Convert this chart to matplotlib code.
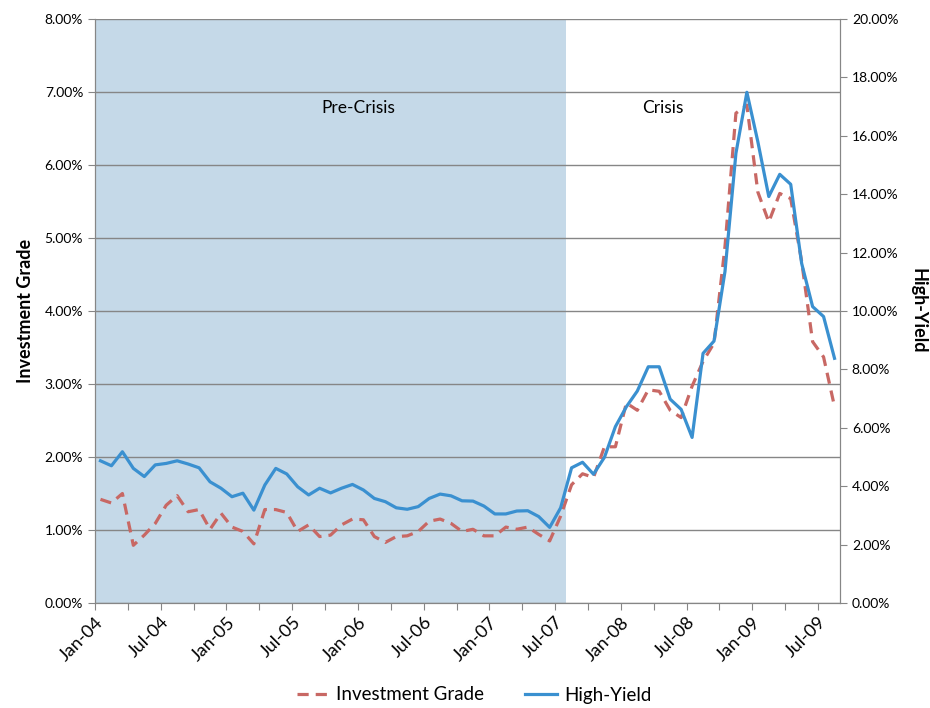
import numpy as np
import matplotlib.pyplot as plt
from matplotlib.ticker import FuncFormatter, MultipleLocator

plt.rcParams['font.family'] = ['Lato', 'DejaVu Sans']

# monthly, Jan-04 .. Aug-09 (68 months), percent
inv_grade = [1.42, 1.37, 1.50, 0.79, 0.93, 1.09, 1.34, 1.47, 1.25, 1.28,
             1.01, 1.23, 1.04, 0.98, 0.81, 1.28, 1.28, 1.24, 0.98, 1.07,
             0.91, 0.93, 1.07, 1.15, 1.14, 0.91, 0.83, 0.91, 0.92, 0.98,
             1.12, 1.15, 1.09, 0.98, 1.01, 0.92, 0.92, 1.04, 1.01, 1.04,
             0.94, 0.85, 1.19, 1.62, 1.77, 1.72, 2.14, 2.14, 2.74, 2.64,
             2.92, 2.90, 2.64, 2.54, 2.97, 3.31, 3.56, 4.88, 6.71, 6.82,
             5.63, 5.22, 5.61, 5.54, 4.68, 3.58, 3.37, 2.69]
high_yield = [4.87, 4.70, 5.18, 4.61, 4.33, 4.73, 4.78, 4.87, 4.76, 4.63,
              4.15, 3.93, 3.64, 3.76, 3.18, 4.04, 4.61, 4.42, 3.98, 3.70,
              3.93, 3.77, 3.93, 4.06, 3.87, 3.58, 3.47, 3.26, 3.21, 3.30,
              3.58, 3.73, 3.67, 3.50, 3.49, 3.32, 3.05, 3.05, 3.15, 3.16,
              2.96, 2.59, 3.26, 4.63, 4.82, 4.41, 4.99, 6.04, 6.72, 7.26,
              8.09, 8.09, 6.98, 6.63, 5.67, 8.55, 8.97, 11.35, 15.40, 17.49,
              15.80, 13.92, 14.68, 14.34, 11.63, 10.15, 9.81, 8.38]
tick_labels = ['Jan-04', 'Jul-04', 'Jan-05', 'Jul-05', 'Jan-06', 'Jul-06',
               'Jan-07', 'Jul-07', 'Jan-08', 'Jul-08', 'Jan-09', 'Jul-09']
pre_crisis_months = 43

x = np.arange(len(inv_grade))
pct = FuncFormatter(lambda v, p: f"{v:.2f}%")
grey = '#868686'

fig = plt.figure(figsize=(9.3, 7.08), dpi=100)
ax = fig.add_axes([95/930, 105/708, 745/930, 584/708])
ax2 = ax.twinx()

ax.axvspan(-0.5, pre_crisis_months - 0.5, color='#c5d9e8', zorder=0, lw=0)
ax.plot(x, inv_grade, color='#c86864', lw=2.3, ls=(0, (3.5, 2.2)),
        label='Investment Grade', zorder=3)
ax2.plot(x, high_yield, color='#3a90d0', lw=2.3, label='High-Yield', zorder=3)

ax.set_xlim(-0.5, len(x) - 0.5)
ax.set_ylim(0, 8)
ax2.set_ylim(0, 20)
ax.yaxis.set_major_locator(MultipleLocator(1))
ax2.yaxis.set_major_locator(MultipleLocator(2))
ax.yaxis.set_major_formatter(pct)
ax2.yaxis.set_major_formatter(pct)
ax.grid(axis='y', color=grey, lw=1, zorder=1)
ax.set_axisbelow(False)

ticks = np.arange(-0.5, len(x) - 1, 3)
ax.set_xticks(ticks)
ax.set_xticklabels([tick_labels[i // 2] if i % 2 == 0 else '' for i in range(len(ticks))],
                   rotation=45, ha='right', rotation_mode='anchor')

for a in (ax, ax2):
    for s in a.spines.values():
        s.set_color(grey)
    a.spines['top'].set_visible(False)
    a.tick_params(colors=grey, labelcolor='black', length=5, labelsize=10)
ax.tick_params(axis='x', labelsize=13, pad=3)

ax.set_ylabel('Investment Grade', fontsize=13, fontweight='bold', labelpad=8)
ax2.set_ylabel('High-Yield', fontsize=13, fontweight='bold', rotation=-90, labelpad=20)

ax.text(23.5, 6.78, 'Pre-Crisis', fontsize=12.5, ha='center', va='center')
ax.text(51.3, 6.78, 'Crisis', fontsize=12.5, ha='center', va='center')

h1, l1 = ax.get_legend_handles_labels()
h2, l2 = ax2.get_legend_handles_labels()
fig.legend(h1 + h2, l1 + l2, loc='center', bbox_to_anchor=(0.51, 13/708),
           ncol=2, frameon=False, fontsize=13.5, handlelength=1.7,
           handletextpad=0.4, columnspacing=2.2)

fig.savefig('out.png', dpi=100)
